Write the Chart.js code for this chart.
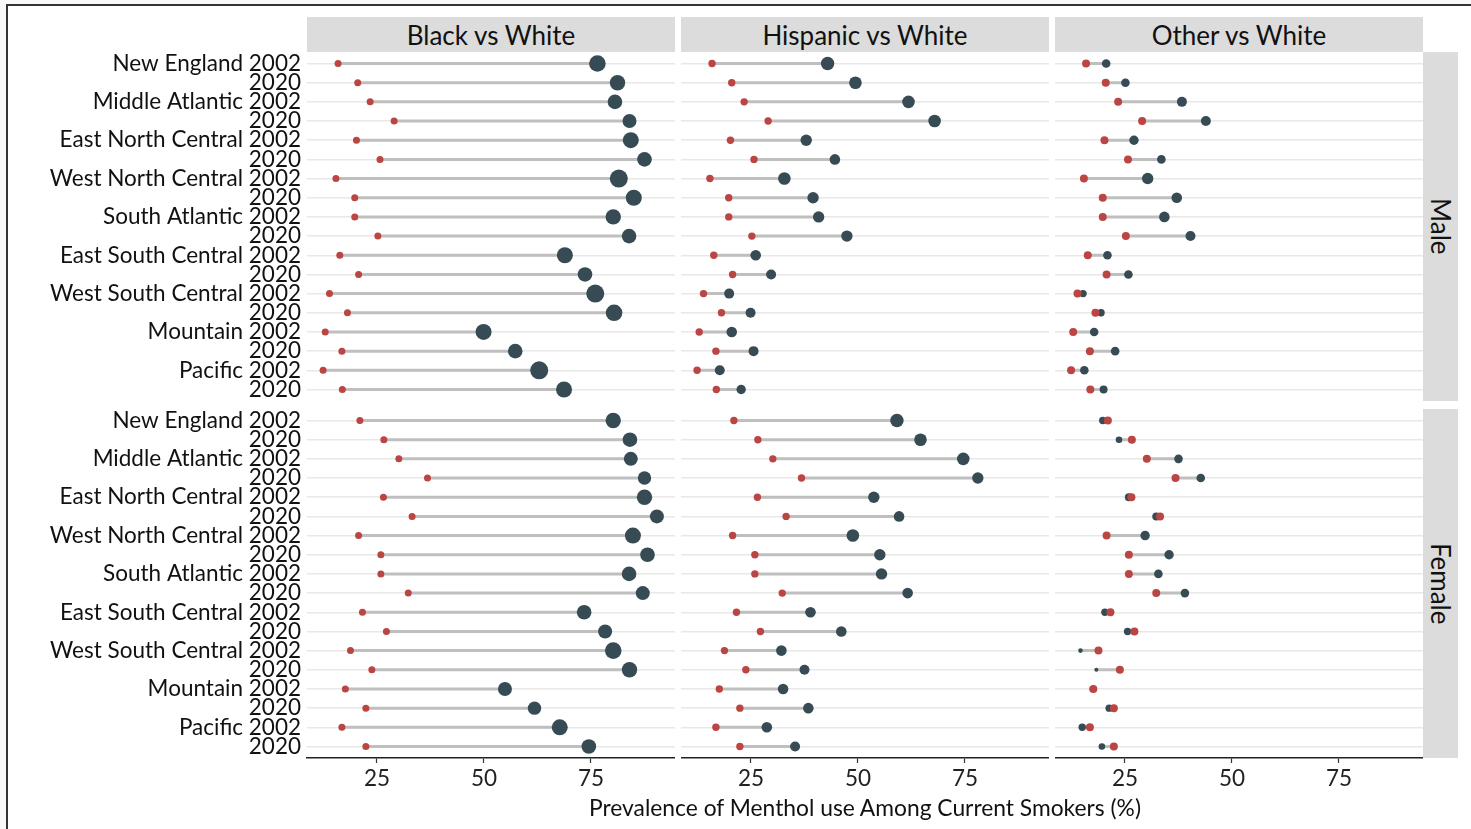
<!DOCTYPE html>
<html>
<head>
<meta charset="utf-8">
<script src="https://cdn.jsdelivr.net/npm/chart.js@4.4.0/dist/chart.umd.min.js"></script>
<style>
  body { margin: 0; background: #f8f8f8; font-family: Lato, sans-serif; }
  #page { position: relative; width: 1471px; height: 829px; overflow: hidden; }
  #frame { position: absolute; left: 6px; top: 4px; width: 1480px; height: 840px;
           border-left: 2px solid #333; border-top: 2px solid #333; background: #fff; }
  .strip { position: absolute; background: #dcdcdc; color: #111; font-size: 26px;
           display: flex; align-items: center; justify-content: center; }
  .side { writing-mode: vertical-rl; }
  .box { position: absolute; }
  #xtitle { position: absolute; left: 307px; width: 1116px; top: 793px; text-align: center;
            font-size: 22.8px; color: #111; }
</style>
</head>
<body>
<div id="page">
  <div id="frame"></div>

  <div class="strip" style="left:307px;top:17px;width:368px;height:35px">Black vs White</div>
  <div class="strip" style="left:681px;top:17px;width:368px;height:35px">Hispanic vs White</div>
  <div class="strip" style="left:1055px;top:17px;width:368px;height:35px">Other vs White</div>
  <div class="strip side" style="left:1423px;top:52px;width:35px;height:349px">Male</div>
  <div class="strip side" style="left:1423px;top:409px;width:35px;height:349px">Female</div>

  <div class="box" style="left:7px;top:52px;width:668px;height:349px"><canvas id="c00"></canvas></div>
  <div class="box" style="left:681px;top:52px;width:368px;height:349px"><canvas id="c01"></canvas></div>
  <div class="box" style="left:1055px;top:52px;width:368px;height:349px"><canvas id="c02"></canvas></div>
  <div class="box" style="left:7px;top:409px;width:668px;height:399px"><canvas id="c10"></canvas></div>
  <div class="box" style="left:681px;top:409px;width:368px;height:399px"><canvas id="c11"></canvas></div>
  <div class="box" style="left:1055px;top:409px;width:368px;height:399px"><canvas id="c12"></canvas></div>

  <div id="xtitle">Prevalence of Menthol use Among Current Smokers (%)</div>
</div>

<script>
const regions = ['New England', 'Middle Atlantic', 'East North Central', 'West North Central',
                 'South Atlantic', 'East South Central', 'West South Central', 'Mountain', 'Pacific'];
const years = ['2002', '2020'];
const xTicks = [25, 50, 75];

// white prevalence (red dots), same in every column
const maleWhite   = [15.9, 20.5, 23.4, 29.0, 20.2, 25.7, 15.4, 19.8, 19.8, 25.2, 16.3, 20.7, 13.9, 18.1, 12.9, 16.8, 12.4, 16.9];
const femaleWhite = [21.0, 26.6, 30.1, 36.8, 26.5, 33.2, 20.7, 25.9, 25.9, 32.3, 21.6, 27.2, 18.8, 23.8, 17.6, 22.4, 16.8, 22.4];

// Male
const blackMale      = [76.5, 81.2, 80.6, 84.0, 84.3, 87.5, 81.5, 85.0, 80.2, 83.9, 68.9, 73.6, 76.0, 80.4, 49.9, 57.3, 62.9, 68.7];
const blackMaleSize  = [8.3, 7.7, 7.3, 7, 8, 7.3, 9, 8, 7.7, 7.3, 8, 7.3, 9, 8.3, 8, 7.3, 9, 8];
const hispMale       = [42.9, 49.4, 61.8, 67.9, 37.9, 44.6, 32.8, 39.5, 40.8, 47.4, 26.1, 29.7, 19.9, 24.9, 20.5, 25.6, 17.7, 22.7];
const hispMaleSize   = [6.7, 6.3, 6.3, 6.3, 5.7, 5.3, 6.3, 5.7, 5.7, 5.7, 5.3, 5, 5, 5, 5.3, 5, 5, 4.7];
const otherMale      = [20.6, 25.1, 38.3, 43.9, 27.1, 33.5, 30.3, 37.1, 34.2, 40.3, 20.9, 25.8, 15.2, 19.4, 17.8, 22.7, 15.5, 20.0];
const otherMaleSize  = [4.3, 4.3, 5, 5, 4.7, 4.3, 5.7, 5.3, 5.3, 5, 4.3, 4.3, 3.7, 3.7, 4.3, 4.3, 4.3, 4];

// Female
const blackFemale     = [80.2, 84.1, 84.3, 87.5, 87.5, 90.4, 84.8, 88.2, 83.9, 87.1, 73.4, 78.3, 80.2, 84.0, 54.9, 61.8, 67.7, 74.5];
const blackFemaleSize = [7.7, 7.3, 7, 6.7, 7.7, 7, 8, 7.3, 7.3, 7, 7.3, 7, 8.3, 7.7, 7, 6.7, 8, 7.3];
const hispFemale      = [59.1, 64.6, 74.6, 78.0, 53.7, 59.6, 48.8, 55.1, 55.5, 61.6, 38.9, 46.1, 32.1, 37.5, 32.5, 38.4, 28.7, 35.3];
const hispFemaleSize  = [6.7, 6.3, 6.3, 5.7, 5.7, 5.3, 6.3, 5.7, 5.7, 5.3, 5.3, 5.3, 5.3, 5, 5.3, 5.3, 5.3, 5];
const otherFemale     = [19.8, 23.6, 37.5, 42.7, 25.9, 32.3, 29.7, 35.3, 32.8, 39.0, 20.3, 25.6, 14.6, 18.3, 17.4, 21.3, 15.0, 19.6];
const otherFemaleSize = [3.7, 3.3, 4.3, 4.3, 4, 4, 4.7, 4.7, 4.3, 4.3, 3.7, 3.7, 2.3, 2, 3, 3.7, 3.7, 3.3];

const yLabels = [];
regions.forEach(r => {
    yLabels.push(r + ' ' + years[0]);
    yLabels.push(years[1]);
});

const RED = '#bb4543';
const DARK = '#364b54';
const SEG = '#bfbfbf';

function makePanel(id, white, race, size, redR, col, row) {
    const left = col === 0;
    const bottom = row === 1;

    // segment from white to race value, broken between rows
    const seg = [];
    white.forEach((w, i) => {
        seg.push({x: w, y: i}, {x: race[i], y: i}, {x: null, y: null});
    });

    return new Chart(document.getElementById(id), {
        type: 'scatter',
        data: {
            datasets: [
                { data: white.map((v, i) => ({x: v, y: i})), backgroundColor: RED, pointRadius: redR, borderWidth: 0 },
                { data: race.map((v, i) => ({x: v, y: i})), backgroundColor: DARK, pointRadius: size, borderWidth: 0 },
                { data: seg, showLine: true, spanGaps: false, borderColor: SEG, borderWidth: 3, pointRadius: 0 }
            ]
        },
        options: {
            responsive: true,
            maintainAspectRatio: false,
            animation: false,
            events: [],
            layout: { padding: 0, autoPadding: false },
            plugins: { legend: { display: false }, tooltip: { enabled: false } },
            scales: {
                x: {
                    type: 'linear',
                    min: 8.645,
                    max: 94.63,
                    display: bottom,
                    afterBuildTicks: s => { s.ticks = xTicks.map(v => ({value: v})); },
                    grid: { drawOnChartArea: false, drawTicks: true, tickLength: 5, tickColor: '#333', tickWidth: 1.2 },
                    border: { display: true, color: '#222', width: 1.5 },
                    ticks: { color: '#222', padding: 2, font: { family: 'Lato', size: 22.5 } },
                    afterFit: s => {
                        s.height = bottom ? 50 : 0;
                        s.paddingLeft = 0; s.paddingRight = 0;
                    }
                },
                y: {
                    type: 'linear',
                    min: -0.6,
                    max: 17.6,
                    reverse: true,
                    afterBuildTicks: s => { s.ticks = yLabels.map((_, i) => ({value: i})); },
                    grid: { color: '#e8e8e8', lineWidth: 1.5, drawTicks: false },
                    border: { display: false },
                    ticks: {
                        display: left,
                        autoSkip: false,
                        padding: 6,
                        color: '#111',
                        font: { family: 'Lato', size: 22.5 },
                        callback: v => yLabels[v]
                    },
                    afterFit: s => {
                        s.width = left ? 300 : 0;
                        s.paddingTop = 0; s.paddingBottom = 0;
                    }
                }
            }
        }
    });
}

makePanel('c00', maleWhite, blackMale, blackMaleSize, 3.5, 0, 0);
makePanel('c01', maleWhite, hispMale, hispMaleSize, 3.7, 1, 0);
makePanel('c02', maleWhite, otherMale, otherMaleSize, 4, 2, 0);
makePanel('c10', femaleWhite, blackFemale, blackFemaleSize, 3.5, 0, 1);
makePanel('c11', femaleWhite, hispFemale, hispFemaleSize, 3.7, 1, 1);
makePanel('c12', femaleWhite, otherFemale, otherFemaleSize, 4, 2, 1);
</script>
</body>
</html>
